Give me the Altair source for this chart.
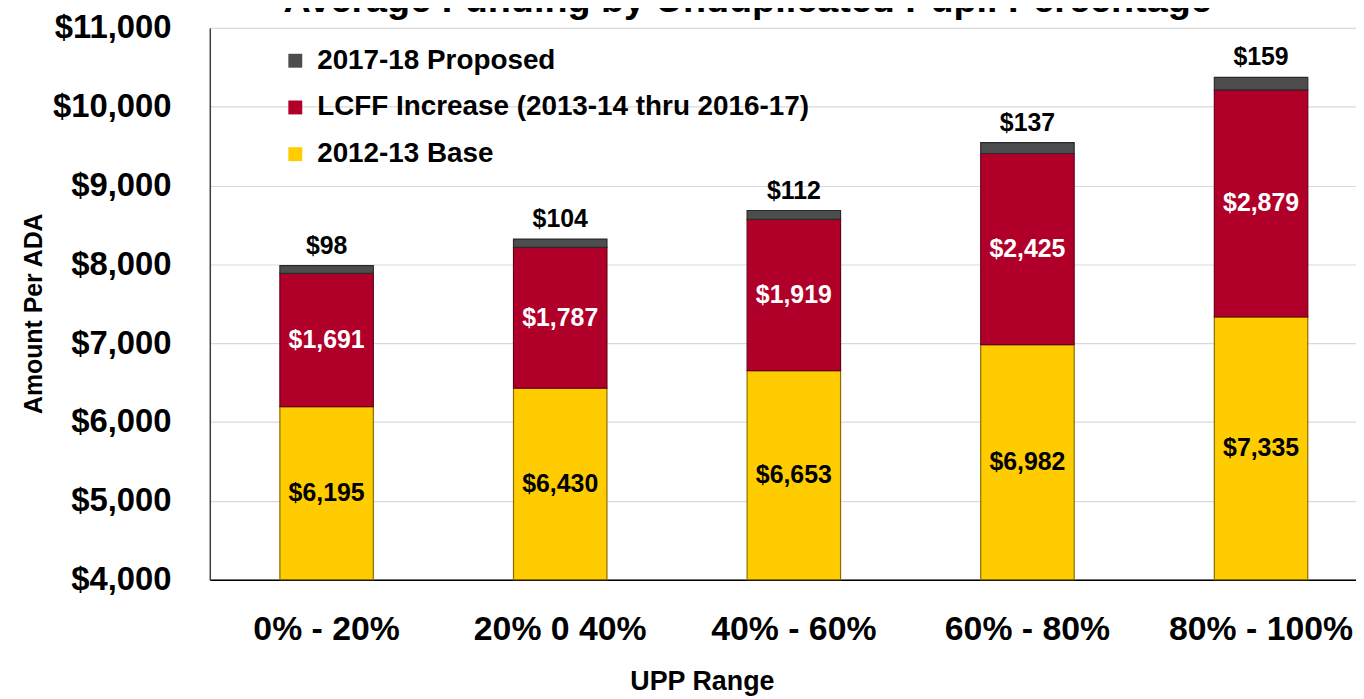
import altair as alt
import pandas as pd

TITLE = "Average Funding by Unduplicated Pupil Percentage"
X_TITLE = "UPP Range"
Y_TITLE = "Amount Per ADA"

ranges = ["0% - 20%", "20% 0 40%", "40% - 60%", "60% - 80%", "80% - 100%"]
series = ["2017-18 Proposed", "LCFF Increase (2013-14 thru 2016-17)", "2012-13 Base"]
base = [6195, 6430, 6653, 6982, 7335]
lcff = [1691, 1787, 1919, 2425, 2879]
proposed = [98, 104, 112, 137, 159]
y_ticks = [4000, 5000, 6000, 7000, 8000, 9000, 10000, 11000]

fills = ["#4d4d4d", "#b0002a", "#ffcc00"]
strokes = ["#2a2a2a", "#6a0018", "#8a6c00"]

y_floor, y_ceil = y_ticks[0], y_ticks[-1]

bar_rows = []
lab_in = []
lab_top = []
for i, r in enumerate(ranges):
    b, l, p = base[i], lcff[i], proposed[i]
    bar_rows.append({"range": r, "series": series[2], "y0": y_floor, "y1": b})
    bar_rows.append({"range": r, "series": series[1], "y0": b, "y1": b + l})
    bar_rows.append({"range": r, "series": series[0], "y0": b + l, "y1": b + l + p})
    lab_in.append({"range": r, "pos": (y_floor + b) / 2, "txt": f"${b:,}", "tc": "#000000"})
    lab_in.append({"range": r, "pos": b + l / 2, "txt": f"${l:,}", "tc": "#ffffff"})
    lab_top.append({"range": r, "pos": b + l + p, "txt": f"${p:,}"})

bars_df = pd.DataFrame(bar_rows)
in_df = pd.DataFrame(lab_in)
top_df = pd.DataFrame(lab_top)
title_df = pd.DataFrame({"t": [TITLE]})

REG = "Liberation Sans, Arial"

x_enc = alt.X(
    "range:N",
    sort=ranges,
    scale=alt.Scale(range=[0, 1175], paddingInner=0.6, paddingOuter=0.3),
    axis=alt.Axis(
        title=X_TITLE,
        labelAngle=0,
        labelFont=REG,
        labelFontWeight="bold",
        labelFontSize=34,
        labelColor="#000000",
        labelPadding=33,
        labelBaseline="top",
        labelLimit=400,
        tickSize=0,
        domainColor="#000000",
        domainWidth=1.5,
        titleFont=REG,
        titleFontWeight="bold",
        titleFontSize=27,
        titleColor="#000000",
        titleX=495,
        titleY=110,
        titleBaseline="alphabetic",
        titleAlign="center",
        titleAnchor="start",
    ),
)

y_scale = alt.Scale(domain=[y_floor, y_ceil], nice=False, zero=False)

bars = alt.Chart(bars_df).mark_bar(strokeWidth=1.2).encode(
    x=x_enc,
    y=alt.Y(
        "y0:Q",
        scale=y_scale,
        axis=alt.Axis(
            values=y_ticks,
            format="$,d",
            labelFont=REG,
            labelFontWeight="bold",
            labelFontSize=33,
            labelColor="#000000",
            labelPadding=39,
            tickSize=0,
            domainColor="#404040",
            domainWidth=1.5,
            gridColor="#d9d9d9",
            gridWidth=1.2,
            title=Y_TITLE,
            titleFont=REG,
            titleFontWeight="bold",
            titleFontSize=25,
            titleColor="#000000",
            titleAngle=270,
            titleX=-169,
            titleY=287,
            titleAlign="center",
            titleBaseline="alphabetic",
            titleAnchor="start",
        ),
    ),
    y2="y1:Q",
    color=alt.Color(
        "series:N",
        scale=alt.Scale(domain=series, range=fills),
        legend=alt.Legend(
            orient="none",
            legendX=72,
            legendY=19,
            title=None,
            padding=0,
            labelFont=REG,
            labelFontWeight="bold",
            labelFontSize=28,
            labelColor="#000000",
            labelOffset=8,
            labelLimit=600,
            symbolType="square",
            symbolSize=196,
            symbolStrokeWidth=0,
            symbolOpacity=1,
            rowPadding=19,
            direction="vertical",
        ),
    ),
    stroke=alt.Stroke("series:N", scale=alt.Scale(domain=series, range=strokes), legend=None),
)

inner = alt.Chart(in_df).mark_text(
    font=REG, fontWeight="bold", fontSize=25, baseline="middle", align="center"
).encode(
    x=alt.X("range:N", sort=ranges),
    y=alt.Y("pos:Q", scale=y_scale),
    text="txt:N",
    color=alt.Color("tc:N", scale=None),
)

top = alt.Chart(top_df).mark_text(
    font=REG, fontWeight="bold", fontSize=25, baseline="alphabetic", align="center", dy=-12, color="#000000"
).encode(
    x=alt.X("range:N", sort=ranges),
    y=alt.Y("pos:Q", scale=y_scale),
    text="txt:N",
)

title = alt.Chart(title_df).mark_text(
    font=REG, fontWeight="bold", fontSize=38, baseline="alphabetic", align="center", color="#000000"
).encode(
    x=alt.value(541),
    y=alt.value(-16),
    text="t:N",
)

chart = (
    alt.layer(bars, inner, top, title)
    .properties(
        width=1153,
        height=555,
        autosize=alt.AutoSizeParams(type="none"),
        padding={"left": 203, "top": 18, "right": 0, "bottom": 118},
    )
    .configure_view(stroke=None)
    .configure(background="#ffffff")
)

chart.save("out.html", embed_options={"renderer": "svg", "actions": False})
